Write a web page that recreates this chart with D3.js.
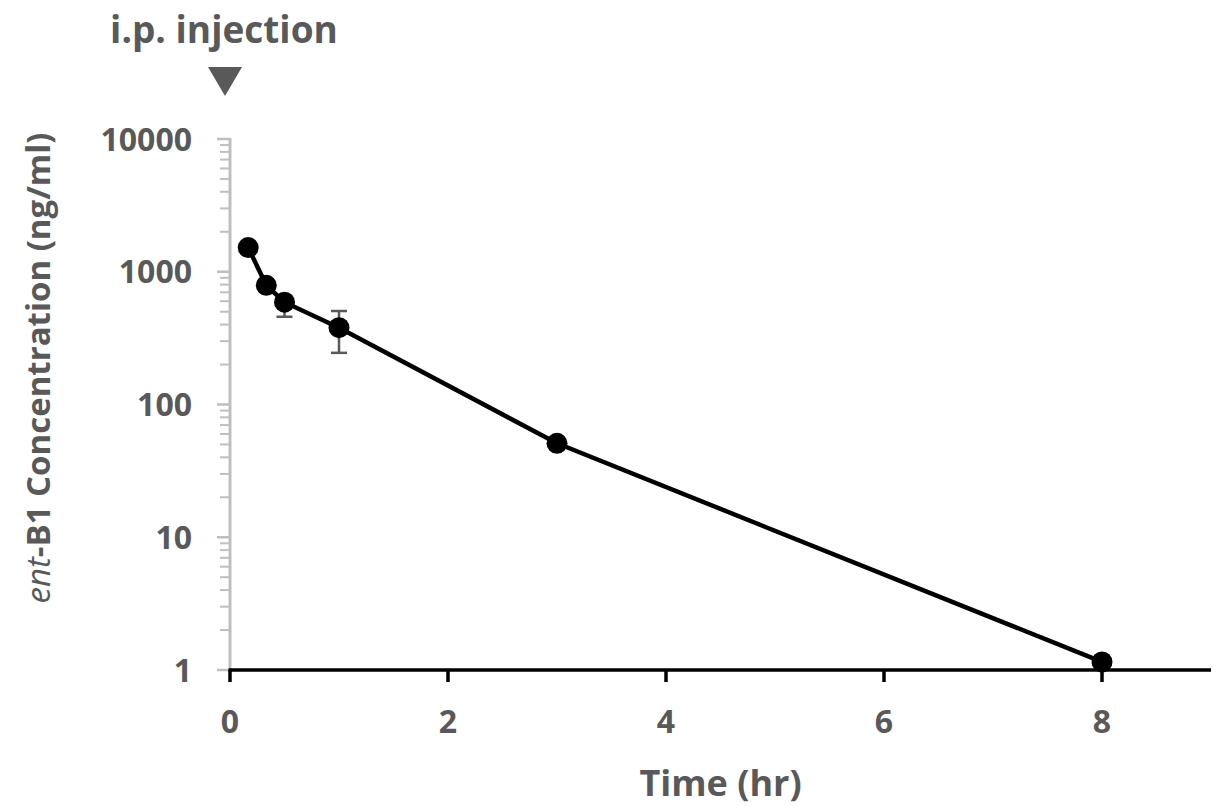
<!DOCTYPE html>
<html><head><meta charset="utf-8">
<script src="https://cdn.jsdelivr.net/npm/d3@7"></script>
<style>
html,body{margin:0;padding:0;background:#fff;}
svg{display:block;}
text{font-family:"Open Sans",Lato,sans-serif;font-weight:700;fill:#595959;}
</style></head><body>
<script>
const timeHr = [0.167, 0.333, 0.5, 1, 3, 8];
const concentration = [1520, 790, 590, 379, 51, 1.15];
const errorUp = [0, 0, 60, 127, 4, 0];
const errorDown = [0, 0, 132, 134, 4, 0];
const xTicks = [0, 2, 4, 6, 8];
const yTicks = [1, 10, 100, 1000, 10000];

const W = 1216, H = 806;
const m = {left: 230, right: 5, top: 139, bottom: 136};
const svg = d3.select("body").append("svg").attr("width", W).attr("height", H);
const x = d3.scaleLinear().domain([0, 9]).range([m.left, W - m.right]);
const y = d3.scaleLog().domain([1, 10000]).range([H - m.bottom, m.top]);

// Y axis (grey) with minor ticks
const minor = [];
for (let d = 1; d < 10000; d *= 10) for (let k = 2; k <= 9; k++) minor.push(d * k);
const gy = svg.append("g");
gy.selectAll(".mn").data(minor).join("line")
  .attr("x1", x(0) - 10).attr("x2", x(0)).attr("y1", d => y(d)).attr("y2", d => y(d))
  .attr("stroke", "#bfbfbf").attr("stroke-width", 2);
gy.selectAll(".mj").data(yTicks).join("line")
  .attr("x1", x(0) - 13).attr("x2", x(0)).attr("y1", d => y(d)).attr("y2", d => y(d))
  .attr("stroke", "#bfbfbf").attr("stroke-width", 2.5);
gy.append("line").attr("x1", x(0)).attr("x2", x(0)).attr("y1", y(10000) - 1).attr("y2", y(1))
  .attr("stroke", "#bfbfbf").attr("stroke-width", 3);
gy.selectAll(".lb").data(yTicks).join("text")
  .attr("x", x(0) - 38).attr("y", d => y(d)).attr("dy", "0.36em")
  .attr("text-anchor", "end").attr("font-size", 32).text(d => d);

// X axis (black)
const gx = svg.append("g").attr("transform", `translate(0,${y(1)})`);
gx.append("line").attr("x1", x(0) - 1.5).attr("x2", x(9)).attr("stroke", "#000").attr("stroke-width", 3.5);
gx.selectAll(".tk").data(xTicks).join("line")
  .attr("x1", d => x(d)).attr("x2", d => x(d)).attr("y1", 0).attr("y2", 12)
  .attr("stroke", "#000").attr("stroke-width", 3.5);
gx.selectAll(".lb").data(xTicks).join("text")
  .attr("x", d => x(d)).attr("y", 63).attr("text-anchor", "middle").attr("font-size", 32).text(d => d);

// Axis titles
svg.append("text").attr("x", (x(0) + x(9)) / 2).attr("y", 796).attr("text-anchor", "middle")
  .attr("font-size", 36).text("Time (hr)");
const yt = svg.append("text").attr("transform", `translate(50,368) rotate(-90)`)
  .attr("text-anchor", "middle").attr("font-size", 33).attr("font-weight", 600);
yt.append("tspan").attr("font-style", "italic").attr("font-weight", 400).text("ent");
yt.append("tspan").text("-B1 Concentration (ng/ml)");

// Injection annotation
svg.append("text").attr("x", x(0) - 6).attr("y", 43).attr("text-anchor", "middle")
  .attr("font-size", 37).text("i.p. injection");
const tx = x(0) - 5;
svg.append("path").attr("d", `M${tx - 17},67 L${tx + 17},67 L${tx},96 Z`).attr("fill", "#595959");

// Error bars
const data = timeHr.map((t, i) => ({t, c: concentration[i], up: errorUp[i], dn: errorDown[i]}));
const eb = svg.append("g").attr("stroke", "#595959").attr("stroke-width", 2.5);
data.filter(d => d.up > 0 || d.dn > 0).forEach(d => {
  const yt = y(d.c + d.up), yb = y(Math.max(d.c - d.dn, 1));
  eb.append("line").attr("x1", x(d.t)).attr("x2", x(d.t)).attr("y1", yt).attr("y2", yb);
  eb.append("line").attr("x1", x(d.t) - 8).attr("x2", x(d.t) + 8).attr("y1", yt).attr("y2", yt);
  eb.append("line").attr("x1", x(d.t) - 8).attr("x2", x(d.t) + 8).attr("y1", yb).attr("y2", yb);
});

// Line and points
svg.append("path").datum(data)
  .attr("d", d3.line().x(d => x(d.t)).y(d => y(d.c)))
  .attr("fill", "none").attr("stroke", "#000").attr("stroke-width", 4.5);
svg.selectAll(".pt").data(data).join("circle")
  .attr("cx", d => x(d.t)).attr("cy", d => y(d.c)).attr("r", 10.5).attr("fill", "#000");
</script>
</body></html>
